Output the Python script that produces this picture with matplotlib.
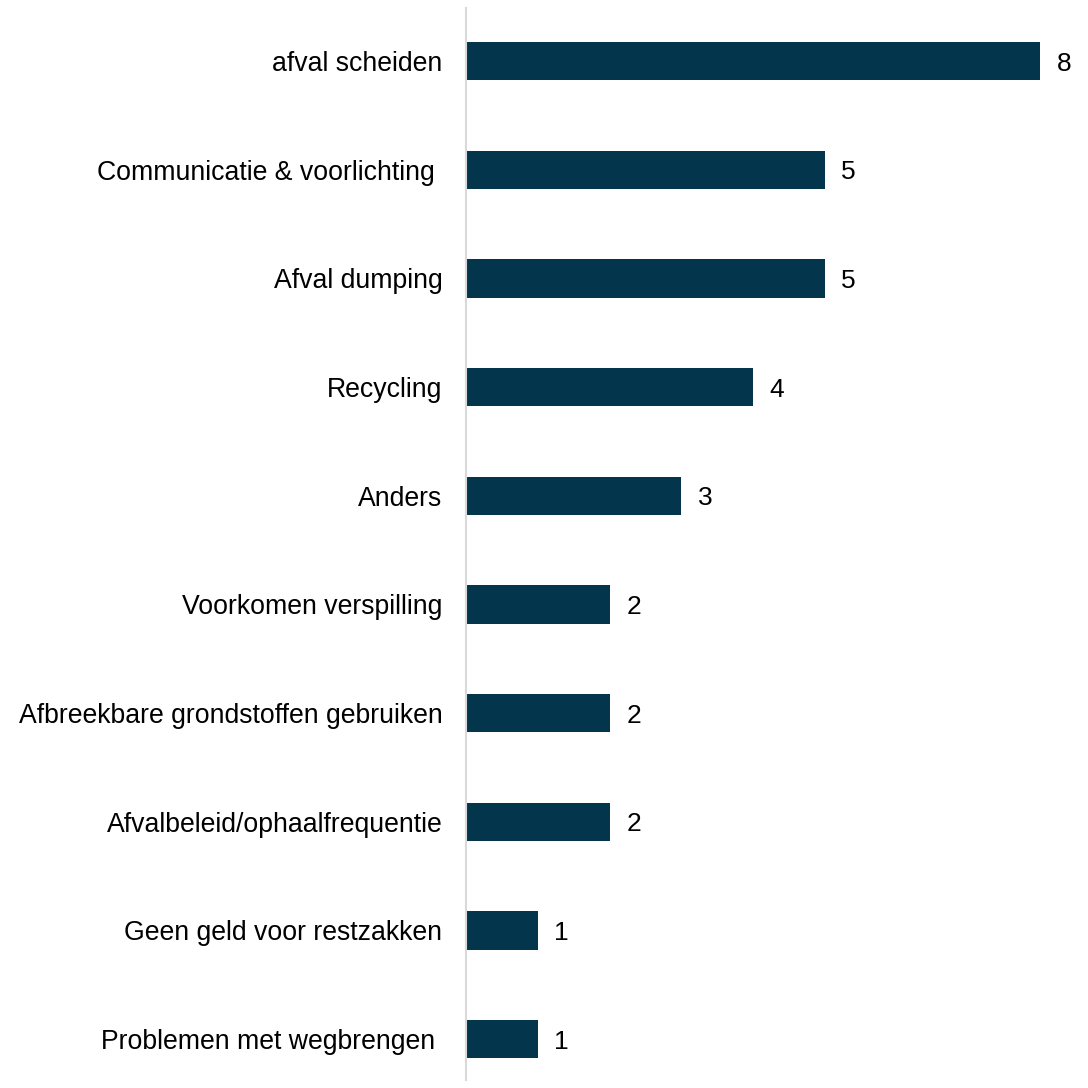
import matplotlib
matplotlib.use('Agg')
import matplotlib.pyplot as plt

categories = ['afval scheiden', 'Communicatie & voorlichting ', 'Afval dumping', 'Recycling',
              'Anders', 'Voorkomen verspilling', 'Afbreekbare grondstoffen gebruiken',
              'Afvalbeleid/ophaalfrequentie', 'Geen geld voor restzakken',
              'Problemen met wegbrengen ']
values = [8, 5, 5, 4, 3, 2, 2, 2, 1, 1]

bar_color = '#03354D'

plt.rcParams['font.family'] = ['Liberation Sans', 'DejaVu Sans']

fig = plt.figure(figsize=(10.88, 10.88), dpi=100)
ax = fig.add_axes([466 / 1088, 8 / 1088, (1088 - 466) / 1088, 1072 / 1088])

pos = list(range(len(categories)))
ax.barh(pos, values, height=0.353, color=bar_color)

for p, v in zip(pos, values):
    ax.annotate(str(v), (v, p), xytext=(12, 0), textcoords='offset points',
                va='center_baseline', ha='left', fontsize=19, color='#000000')

ax.set_yticks(pos)
ax.set_yticklabels(categories, fontsize=19.2)
ax.tick_params(axis='y', length=0, pad=17)
ax.set_xticks([])
ax.set_ylim(9.377, -0.488)
ax.set_xlim(0, (1088 - 466) / 71.75)

for s in ['top', 'right', 'bottom']:
    ax.spines[s].set_visible(False)
ax.spines['left'].set_color('#D9D9D9')
ax.spines['left'].set_linewidth(1.5)

fig.savefig('out.png', dpi=100)
